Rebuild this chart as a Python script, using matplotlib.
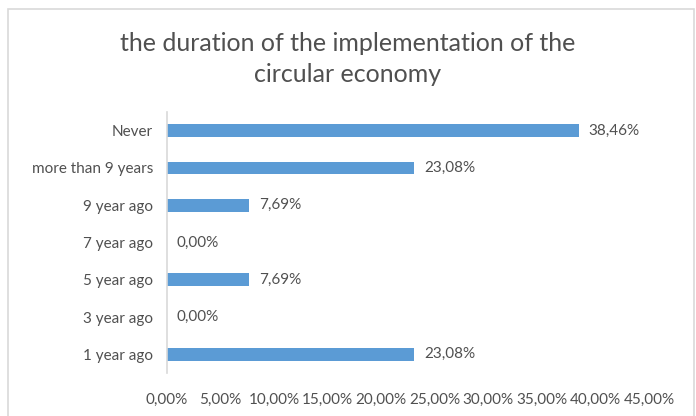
import matplotlib.pyplot as plt
from matplotlib.patches import Rectangle

plt.rcParams['font.family'] = ['Lato', 'DejaVu Sans']

categories = ['1 year ago', '3 year ago', '5 year ago', '7 year ago',
              '9 year ago', 'more than 9 years', 'Never']
shares = [23.08, 0.00, 7.69, 0.00, 7.69, 23.08, 38.46]
ticks = [0, 5, 10, 15, 20, 25, 30, 35, 40, 45]

text_color = '#505050'
bar_color = '#5B9BD5'

fig = plt.figure(figsize=(6.96, 4.16), dpi=100)

# chart frame
fig.patches.append(Rectangle((8 / 696, -0.1), 686 / 696, 1.1 - 9 / 416,
                             transform=fig.transFigure, fill=False,
                             edgecolor='#D9D9D9', linewidth=1.2))

ax = fig.add_axes([167 / 696, 43 / 416, 482 / 696, 261 / 416])
y = range(len(categories))
ax.barh(y, shares, height=0.34, color=bar_color)

for yi, v in zip(y, shares):
    ax.annotate(f'{v:.2f}%'.replace('.', ','), (v, yi), xytext=(7, 0),
                textcoords='offset points', va='center', ha='left',
                fontsize=11, color=text_color)

ax.set_xlim(0, 45)
ax.set_ylim(-0.5, len(categories) - 0.5)
ax.set_xticks(ticks)
ax.set_xticklabels([f'{t:.2f}%'.replace('.', ',') for t in ticks])
ax.set_yticks(list(y))
ax.set_yticklabels(categories)
ax.tick_params(axis='both', length=0, labelsize=11, colors=text_color)
ax.tick_params(axis='x', pad=14)
ax.tick_params(axis='y', pad=10)

for side in ['top', 'right', 'bottom']:
    ax.spines[side].set_visible(False)
ax.spines['left'].set_color('#D9D9D9')
ax.spines['left'].set_linewidth(1.2)

fig.text(0.5, 1 - 59 / 416, 'the duration of the implementation of the\ncircular economy',
         ha='center', va='center', fontsize=18, color=text_color, linespacing=1.4)

fig.savefig('out.png', dpi=100)
